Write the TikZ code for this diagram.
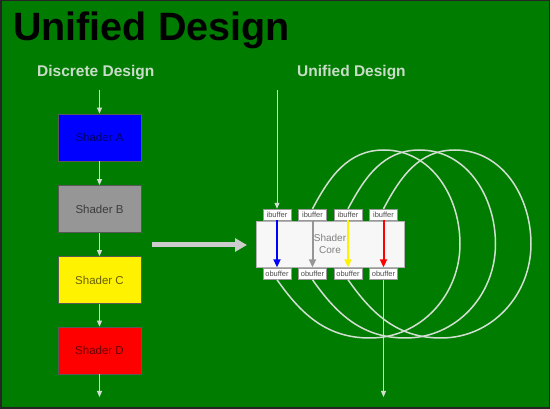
\documentclass[tikz,border=0pt]{standalone}
\usepackage{fontspec}
\setmainfont{Liberation Sans}
\usetikzlibrary{arrows.meta}
\definecolor{bggreen}{RGB}{0,125,0}
\definecolor{paleline}{RGB}{210,222,210}
\definecolor{subtext}{RGB}{200,220,200}
\definecolor{shgray}{RGB}{150,150,150}
\tikzset{
    shaderbox/.style={draw=black!65, line width=0.8pt, minimum width=83pt, minimum height=47pt, inner sep=0pt,
        font=\fontsize{11.5}{12}\selectfont, text=black, text opacity=0.6},
    bufbox/.style={draw=black!40, fill=white, minimum width=28pt, minimum height=11pt, inner sep=0pt,
        font=\fontsize{7.5}{8}\selectfont, text=black!70},
    flow/.style={paleline, line width=1pt, -{Triangle[length=6pt,width=5pt]}},
    loopline/.style={paleline, line width=1.5pt},
    thread/.style={line width=2pt, shorten >=1pt, -{Triangle[length=8pt,width=7pt]}}
}

\begin{document}
\begin{tikzpicture}[x=1pt,y=1pt]
	\useasboundingbox (0,0) rectangle (550,-409);
	\fill[bggreen] (0,0) rectangle (550,-409);
	\draw[black!85, line width=1.5pt] (0.75,-0.75) rectangle (549.25,-408.25);
	\node[anchor=base west, inner sep=0pt, font=\fontsize{39.5}{40}\selectfont\bfseries] (title) at (13,-41) {Unified Design};
	\node[anchor=base west, inner sep=0pt, font=\fontsize{15.5}{16}\selectfont\bfseries, text=subtext] (discrete) at (37,-77) {Discrete Design};
	\node[anchor=base west, inner sep=0pt, font=\fontsize{15.5}{16}\selectfont\bfseries, text=subtext] (unified) at (297,-77) {Unified Design};
	% discrete pipeline
	\node[shaderbox, fill=blue] (shA) at (99.5,-137.5) {Shader A};
	\node[shaderbox, fill=shgray] (shB) at (99.5,-209) {Shader B};
	\node[shaderbox, fill=yellow] (shC) at (99.5,-280) {Shader C};
	\node[shaderbox, fill=red] (shD) at (99.5,-350.5) {Shader D};
	\coordinate (dIn) at (99.5,-90);
	\coordinate (dOut) at (99.5,-397);
	\draw[flow] (dIn) -- (shA);
	\draw[flow] (shA) -- (shB);
	\draw[flow] (shB) -- (shC);
	\draw[flow] (shC) -- (shD);
	\draw[flow] (shD) -- (dOut);
	% big arrow
	\coordinate (bigFrom) at (152,-245);
	\coordinate (bigTo) at (247,-245);
	\draw[black!20, line width=5pt, -{Triangle[length=12pt,width=13pt]}] (bigFrom) -- (bigTo);
	% unified core
	\node[draw=black!30, fill=black!3, minimum width=148pt, minimum height=46pt, inner sep=0pt, align=center,
	      font=\fontsize{10}{12}\selectfont, text=black!50] (core) at (330,-244) {Shader\\Core};
	\foreach \i/\c in {1/blue,2/shgray,3/yellow,4/red}{
		\node[bufbox] (ib\i) at ({277+35.5*(\i-1)},-214.5) {ibuffer};
		\node[bufbox] (ob\i) at ({277+35.5*(\i-1)},-274) {obuffer};
		\draw[thread, \c] (ib\i.south) -- (ob\i.north);
	}
	\foreach \k/\n/\s in {1/2/0, 2/3/35.5, 3/4/71}
		\draw[loopline] (ob\k.south) to[out=-55,in=180] ({370+\s},-338) to[out=0,in=-90] ({460+\s},-244)
			to[out=90,in=0] ({384+\s},-150) to[out=180,in=62] (ib\n.north);
	\coordinate (uIn) at (277,-90);
	\coordinate (uOut) at (383.5,-397);
	\draw[flow] (uIn) -- (ib1);
	\draw[flow] (ob4) -- (uOut);
\end{tikzpicture}
\end{document}
